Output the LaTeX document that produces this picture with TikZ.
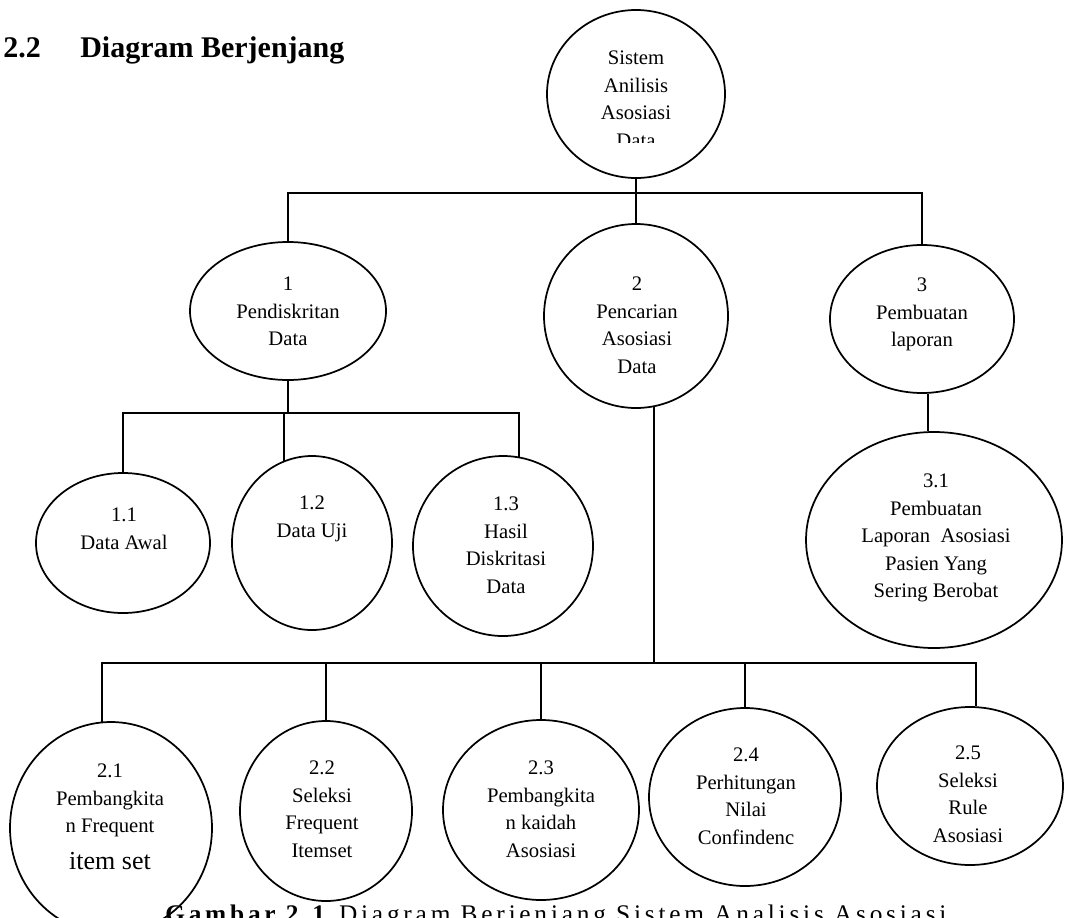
\documentclass[tikz,border=0pt]{standalone}
\usepackage{fontspec}
\setmainfont{Liberation Serif}
\usetikzlibrary{shapes.geometric}

\begin{document}
\begin{tikzpicture}[x=0.75pt,y=-0.75pt,
  bub/.style 2 args={draw, ellipse, line width=1.3pt,
    minimum width={#1*1.5pt}, minimum height={#2*1.5pt}, inner sep=0pt},
  lbl/.style={anchor=north, align=center, inner sep=0pt,
    font=\fontsize{15.5}{20.6}\selectfont},
  wire/.style={line width=1.4pt},
  head/.style={anchor=base west, inner sep=0pt,
    font=\bfseries\fontsize{22.5}{27}\selectfont},
]
\useasboundingbox (0,0) rectangle (1065,918);
\clip (0,0) rectangle (1065,918);

% section heading
\node[head] (secno) at (3,57) {2.2};
\node[head] (sectitle) at (80,57) {Diagram Berjenjang};

% level 0
\node[bub={89}{84}] (T) at (636,94) {};
\begin{scope}
  \clip (520,0) rectangle (760,142);
  \node[lbl] (Tt) at (636,51) {Sistem\\Anilisis\\Asosiasi\\Data};
\end{scope}

% level 1
\node[bub={98}{69}] (N1) at (288,311) {};
\node[lbl] (N1t) at (288,277) {1\\Pendiskritan\\Data};
\node[bub={92}{92}] (N2) at (636,316) {};
\node[lbl] (N2t) at (637,277) {2\\Pencarian\\Asosiasi\\Data};
\node[bub={92}{74}] (N3) at (922,319) {};
\node[lbl] (N3t) at (922,278) {3\\Pembuatan\\laporan};

% children of 1
\node[bub={87}{70}] (N11) at (123,543) {};
\node[lbl] (N11t) at (124,508) {1.1\\Data Awal};
\node[bub={80}{87}] (N12) at (312,543) {};
\node[lbl] (N12t) at (312,496) {1.2\\Data Uji};
\node[bub={90}{90}] (N13) at (503,546) {};
\node[lbl] (N13t) at (506,497) {1.3\\Hasil\\Diskritasi\\Data};

% child of 3
\node[bub={128}{108}] (N31) at (934,540) {};
\node[lbl] (N31t) at (936,474) {3.1\\Pembuatan\\Laporan\ \ Asosiasi\\Pasien Yang\\Sering Berobat};

% children of 2
\node[bub={101}{106}] (N21) at (111,828) {};
\node[lbl] (N21t) at (110,764) {2.1\\Pembangkita\\n Frequent\\[7pt]{\fontsize{19.5}{24}\selectfont item set}};
\node[bub={86}{90}] (N22) at (326,811) {};
\node[lbl] (N22t) at (322,761) {2.2\\Seleksi\\Frequent\\Itemset};
\node[bub={98}{90}] (N23) at (541,810) {};
\node[lbl] (N23t) at (541,761) {2.3\\Pembangkita\\n kaidah\\Asosiasi};
\node[bub={96}{89}] (N24) at (745,797) {};
\node[lbl] (N24t) at (746,748) {2.4\\Perhitungan\\Nilai\\Confindenc};
\node[bub={93}{79}] (N25) at (970,786) {};
\begin{scope}
  \clip (870,700) rectangle (1065,843);
  \node[lbl] (N25t) at (968,746) {2.5\\Seleksi\\Rule\\Asosiasi};
\end{scope}

% connectors
\coordinate (b1) at (636,193);
\coordinate (b2) at (300,413);
\coordinate (b3) at (600,663);
\draw[wire] (T.south) -- (N2.north);
\draw[wire] (N1.north) -- (N1.north |- b1) -| (N3.north);
\draw[wire] (N1.south) -- (N1.south |- b2);
\draw[wire] (N11.north) -- (N11.north |- b2) -| (N13.80);
\draw[wire] (N12.109) -- (N12.109 |- b2);
\draw[wire] (N31.93) -- (N31.93 |- N3.south);
\draw[wire] (N2.-79) -- (N2.-79 |- b3);
\draw[wire] (N21.95) -- (N21.95 |- b3) -| (N25.86);
\draw[wire] (N22.north) -- (N22.north |- b3);
\draw[wire] (N23.north) -- (N23.north |- b3);
\draw[wire] (N24.north) -- (N24.north |- b3);

% figure caption, cut by the page edge
\node[anchor=base west, inner sep=0pt,
  font=\fontsize{19}{22}\selectfont\addfontfeatures{LetterSpace=15}] (cap) at (165,922)
  {\textbf{Gambar 2.1} Diagram Berjenjang Sistem Analisis Asosiasi};
\end{tikzpicture}
\end{document}
